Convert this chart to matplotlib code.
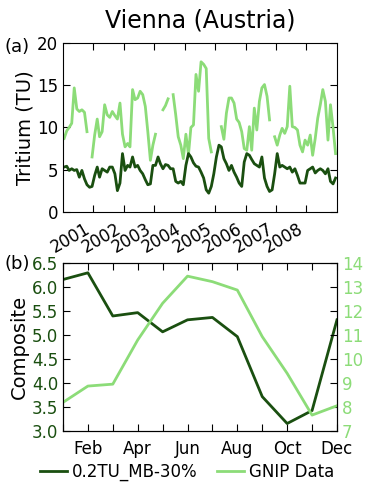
import numpy as np
import pandas as pd
import matplotlib
matplotlib.use('Agg')
import matplotlib.pyplot as plt

nan = np.nan

# monthly tritium, Jan 2000 - Dec 2008 (TU)
model_2000 = [5.3, 5.4, 4.9, 5.1, 4.9, 5.0, 4.1, 4.9, 3.9, 3.2, 2.9, 3.0]
model_2001 = [4.3, 5.3, 4.1, 5.1, 4.9, 4.7, 5.3, 5.3, 4.5, 2.5, 3.4, 6.9]
model_2002 = [4.9, 5.5, 5.3, 6.5, 5.3, 5.5, 4.9, 4.5, 3.8, 3.2, 3.3, 5.5]
model_2003 = [5.5, 6.5, 5.7, 5.1, 5.6, 5.5, 5.1, 5.1, 3.6, 3.4, 3.6, 3.2]
model_2004 = [5.5, 6.9, 6.5, 5.8, 5.4, 5.3, 4.7, 4.0, 2.6, 2.2, 3.0, 4.5]
model_2005 = [6.5, 7.9, 7.7, 6.3, 5.7, 4.9, 5.5, 4.7, 4.1, 3.4, 3.0, 5.9]
model_2006 = [6.9, 6.7, 6.2, 5.7, 5.5, 5.3, 6.5, 4.0, 3.0, 2.4, 2.6, 4.5]
model_2007 = [6.9, 5.3, 5.5, 5.3, 5.1, 5.3, 4.7, 5.1, 4.3, 3.4, 3.4, 3.4]
model_2008 = [4.9, 5.1, 5.3, 4.6, 4.9, 5.1, 4.9, 4.5, 5.1, 3.6, 3.3, 4.0]

gnip_2000 = [8.7, 9.6, 10.0, 10.5, 14.7, 12.2, 11.9, 12.1, 11.8, 9.5, nan, 6.5]
gnip_2001 = [9.1, 11.0, 8.9, 9.5, 12.7, 11.5, 11.2, 11.9, 11.4, 11.0, 12.9, 9.2]
gnip_2002 = [7.7, 8.1, 7.7, 14.5, 13.3, 13.5, 14.3, 13.9, 12.5, 9.5, 6.1, 7.9]
gnip_2003 = [9.2, nan, nan, 12.1, 12.6, 13.4, nan, 13.9, 11.5, 8.9, 7.9, 6.3]
gnip_2004 = [9.2, 6.8, 10.0, 10.3, 16.3, 14.3, 17.8, 17.5, 17.0, 8.7, 7.1, nan]
gnip_2005 = [nan, nan, 10.1, 8.6, 11.7, 13.5, 13.5, 12.9, 11.0, 10.6, 9.5, 7.5]
gnip_2006 = [7.3, 10.1, 7.3, 12.3, 9.7, 13.1, 14.7, 15.1, 13.7, 10.9, nan, 8.9]
gnip_2007 = [7.9, 9.1, 9.9, 9.3, 10.1, 14.9, 10.1, 10.0, 9.7, 7.9, 7.1, 8.5]
gnip_2008 = [7.9, 9.1, 6.7, 8.7, 11.1, 12.7, 14.5, 13.1, 8.5, 12.7, 10.0, 6.9]

model = (model_2000 + model_2001 + model_2002 + model_2003 + model_2004 +
         model_2005 + model_2006 + model_2007 + model_2008)
gnip = (gnip_2000 + gnip_2001 + gnip_2002 + gnip_2003 + gnip_2004 +
        gnip_2005 + gnip_2006 + gnip_2007 + gnip_2008)

years = [2001, 2002, 2003, 2004, 2005, 2006, 2007, 2008]

# monthly composites
months = ['Jan', 'Feb', 'Mar', 'Apr', 'May', 'Jun',
          'Jul', 'Aug', 'Sep', 'Oct', 'Nov', 'Dec']
comp_model = [6.15, 6.29, 5.39, 5.46, 5.06, 5.31, 5.36, 4.96, 3.71, 3.15, 3.42, 5.31]
comp_gnip = [8.18, 8.86, 8.94, 10.78, 12.31, 13.44, 13.21, 12.86, 10.92, 9.39, 7.65, 8.04]

dark = '#1a4f10'
light = '#8cdc78'

plt.rcParams['xtick.direction'] = 'in'
plt.rcParams['ytick.direction'] = 'in'
plt.rcParams['xtick.major.size'] = 5
plt.rcParams['ytick.major.size'] = 5

fig = plt.figure(figsize=(3.74, 4.84), dpi=100)

dates = pd.date_range('2000-01-01', periods=len(model), freq='MS') + pd.Timedelta(days=14)

ax1 = fig.add_axes([0.1684, 0.5626, 0.7326, 0.348])
ax1.plot(dates, gnip, color=light, lw=2)
ax1.plot(dates, model, color=dark, lw=2)
ax1.set_xlim(pd.Timestamp('2000-01-01'), pd.Timestamp('2009-01-01'))
ax1.set_ylim(0, 20)
ax1.set_yticks([0, 5, 10, 15, 20])
ax1.set_xticks([pd.Timestamp('%d-01-01' % y) for y in years])
ax1.set_xticklabels([str(y) for y in years], rotation=30, ha='right')
ax1.tick_params(labelsize=12, top=True, right=True)
ax1.tick_params(axis='x', pad=6)
ax1.set_ylabel('Tritium (TU)', fontsize=14, labelpad=2)
ax1.set_title('Vienna (Austria)', fontsize=17, pad=11)
fig.text(0.012, 0.903, '(a)', fontsize=13, va='center')

ax2 = fig.add_axes([0.1684, 0.1101, 0.7326, 0.3471])
x = np.arange(1, 13)
l1, = ax2.plot(x, comp_model, color=dark, lw=2, label='0.2TU_MB-30%')
ax2.set_xlim(1, 12)
ax2.set_ylim(3.0, 6.5)
ax2.set_yticks(np.arange(3.0, 6.51, 0.5))
ax2.set_yticklabels(['%.1f' % v for v in np.arange(3.0, 6.51, 0.5)])
ax2.set_xticks(x)
ax2.set_xticklabels([m if i % 2 == 1 else '' for i, m in enumerate(months)])
ax2.tick_params(axis='y', colors=dark, labelsize=12)
ax2.tick_params(axis='y', color='k')
ax2.tick_params(axis='x', labelsize=12, top=True, pad=7)
ax2.set_ylabel('Composite', fontsize=14, labelpad=2)

ax3 = ax2.twinx()
l2, = ax3.plot(x, comp_gnip, color=light, lw=2, label='GNIP Data')
ax3.set_ylim(7, 14)
ax3.set_yticks(range(7, 15))
ax3.tick_params(axis='y', colors=light, labelsize=12, direction='in')
ax3.tick_params(axis='y', color='k')
fig.text(0.012, 0.4545, '(b)', fontsize=13, va='center')

fig.legend([l1, l2], ['0.2TU_MB-30%', 'GNIP Data'], loc='lower center',
           bbox_to_anchor=(0.5, -0.025), ncol=2, frameon=False, fontsize=12,
           handlelength=1.6, handletextpad=0.3, columnspacing=1.2)

fig.savefig('out.png', dpi=100)
